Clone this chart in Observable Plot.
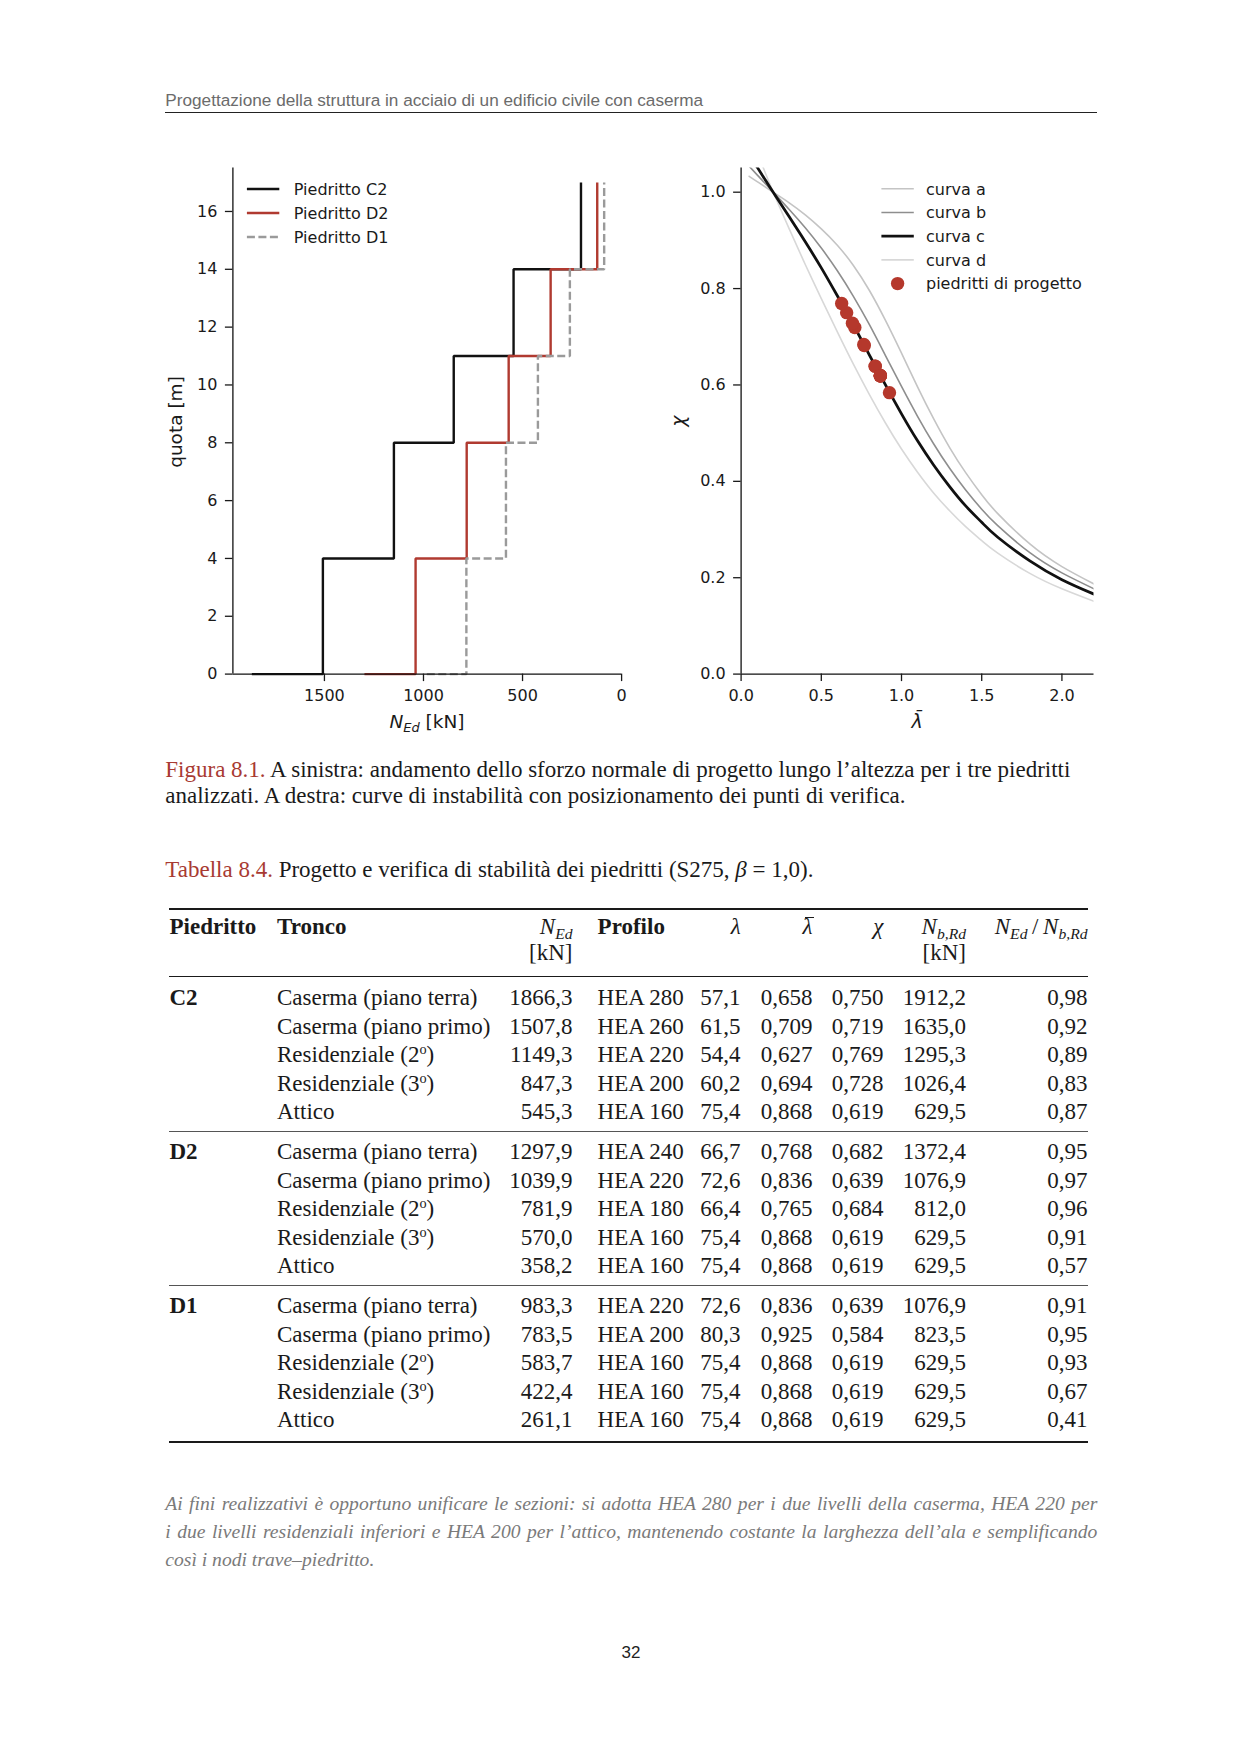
<!DOCTYPE html>
<html>
<head>
<meta charset="utf-8">
<script src="https://cdn.jsdelivr.net/npm/d3@7"></script>
<script src="https://cdn.jsdelivr.net/npm/@observablehq/plot@0.6"></script>
<style>
  body { margin: 0; background: #fff; }
  #page { position: relative; width: 1240px; height: 1752px; background: #fff; overflow: hidden; }
  .abs { position: absolute; white-space: nowrap; }
  .serif { font-family: "Liberation Serif", "Times New Roman", serif; color: #1a1a1a; }
  .sans { font-family: "Liberation Sans", Arial, sans-serif; }
  .red { color: #a83a32; }
  .b { font-weight: bold; }
  sub { font-size: 0.68em; vertical-align: -0.3em; line-height: 0; }
  sup { font-size: 0.62em; vertical-align: 0.55em; line-height: 0; }
  .lbar { position: relative; display: inline-block; }
  .lbar::after { content: ""; position: absolute; left: 2.5px; width: 9px; top: 4.5px; height: 1.2px; background: #1a1a1a; }
  .rule { position: absolute; background: #1a1a1a; }
  .chart { position: absolute; }
  .para { position: absolute; left: 165.3px; width: 932px; font-family: "Liberation Serif", serif; font-style: italic; color: #7a7a7a; font-size: 19.6px; line-height: 28px; }
</style>
</head>
<body>
<div id="page"></div>
<script>
// ---------------- DATA ----------------
const piedritti = ["C2", "D2", "D1"];
const tronchi = ["Caserma (piano terra)", "Caserma (piano primo)", "Residenziale (2º)", "Residenziale (3º)", "Attico"];
const nEd = [1866.3, 1507.8, 1149.3, 847.3, 545.3, 1297.9, 1039.9, 781.9, 570.0, 358.2, 983.3, 783.5, 583.7, 422.4, 261.1];
const profili = ["HEA 280", "HEA 260", "HEA 220", "HEA 200", "HEA 160", "HEA 240", "HEA 220", "HEA 180", "HEA 160", "HEA 160", "HEA 220", "HEA 200", "HEA 160", "HEA 160", "HEA 160"];
const snellezza = [57.1, 61.5, 54.4, 60.2, 75.4, 66.7, 72.6, 66.4, 75.4, 75.4, 72.6, 80.3, 75.4, 75.4, 75.4];
const lambdaBar = [0.658, 0.709, 0.627, 0.694, 0.868, 0.768, 0.836, 0.765, 0.868, 0.868, 0.836, 0.925, 0.868, 0.868, 0.868];
const chi = [0.750, 0.719, 0.769, 0.728, 0.619, 0.682, 0.639, 0.684, 0.619, 0.619, 0.639, 0.584, 0.619, 0.619, 0.619];
const nbRd = [1912.2, 1635.0, 1295.3, 1026.4, 629.5, 1372.4, 1076.9, 812.0, 629.5, 629.5, 1076.9, 823.5, 629.5, 629.5, 629.5];
const ratio = [0.98, 0.92, 0.89, 0.83, 0.87, 0.95, 0.97, 0.96, 0.91, 0.57, 0.91, 0.95, 0.93, 0.67, 0.41];

// left chart: storey levels and top-of-column force
const zLevels = [0, 4, 8, 11, 14, 17];
const nTop = [205, 123, 88];
const seriesNames = ["Piedritto C2", "Piedritto D2", "Piedritto D1"];
const xTicksLeft = [1500, 1000, 500, 0];
const yTicksLeft = [0, 2, 4, 6, 8, 10, 12, 14, 16];

// right chart: buckling curves
const lambdaGrid = [0.05, 0.1, 0.15, 0.2, 0.3, 0.4, 0.5, 0.6, 0.7, 0.8, 0.9, 1.0, 1.1, 1.2, 1.3, 1.4, 1.5, 1.6, 1.8, 2.0, 2.2];
const chiA = [1.033, 1.022, 1.011, 1.000, 0.978, 0.953, 0.924, 0.890, 0.848, 0.796, 0.734, 0.666, 0.596, 0.530, 0.470, 0.418, 0.372, 0.333, 0.270, 0.223, 0.187];
const chiB = [1.054, 1.036, 1.018, 1.000, 0.964, 0.926, 0.884, 0.837, 0.784, 0.725, 0.661, 0.597, 0.535, 0.478, 0.427, 0.382, 0.342, 0.308, 0.252, 0.210, 0.177];
const chiC = [1.080, 1.052, 1.026, 1.000, 0.949, 0.897, 0.843, 0.785, 0.725, 0.662, 0.600, 0.540, 0.484, 0.434, 0.389, 0.349, 0.315, 0.284, 0.235, 0.196, 0.166];
const chiD = [1.129, 1.083, 1.041, 1.000, 0.924, 0.850, 0.779, 0.710, 0.643, 0.580, 0.521, 0.467, 0.419, 0.376, 0.339, 0.306, 0.277, 0.251, 0.209, 0.177, 0.151];
const curveNames = ["curva a", "curva b", "curva c", "curva d"];
const pointsName = "piedritti di progetto";
const xTicksRight = [0, 0.5, 1.0, 1.5, 2.0];
const yTicksRight = [0, 0.2, 0.4, 0.6, 0.8, 1.0];

// ---------------- HELPERS ----------------
const page = document.getElementById("page");
const comma = (v, d) => v.toFixed(d).replace(".", ",");
function put(html, x, y, opt = {}) {
  const { align = "left", size = 23, lh = 28, cls = "serif", color = null } = opt;
  const d = document.createElement("div");
  d.className = "abs " + cls;
  d.innerHTML = html;
  d.style.fontSize = size + "px";
  d.style.lineHeight = lh + "px";
  d.style.top = (y - lh / 2) + "px";
  if (align === "left") d.style.left = x + "px";
  else if (align === "right") d.style.right = (1240 - x) + "px";
  else { d.style.left = (x - 300) + "px"; d.style.width = "600px"; d.style.textAlign = "center"; }
  if (color) d.style.color = color;
  page.appendChild(d);
  return d;
}
function rule(x1, x2, y, h, color = "#1a1a1a") {
  const r = document.createElement("div");
  r.className = "rule";
  r.style.left = x1 + "px"; r.style.width = (x2 - x1) + "px";
  r.style.top = (y - h / 2) + "px"; r.style.height = h + "px";
  r.style.background = color;
  page.appendChild(r);
}

// ---------------- HEADER ----------------
put("Progettazione della struttura in acciaio di un edificio civile con caserma", 165.3, 99.5, { cls: "sans", size: 17.2, lh: 20, color: "#6b6b6b" });
rule(165.3, 1097, 112.8, 1.2, "#222");

// ---------------- LEFT CHART ----------------
const chartStyle = { fontFamily: "'DejaVu Sans', sans-serif", fontSize: "16px", color: "#1a1a1a", background: "transparent", overflow: "visible" };
const stepSeries = piedritti.map((p, s) => zLevels.map((z, i) => ({ z, n: i < 5 ? nEd[s * 5 + i] : nTop[s] })));
const stepStyles = [
  { stroke: "#111111", strokeWidth: 2.4 },
  { stroke: "#b03a30", strokeWidth: 2.4 },
  { stroke: "#9a9a9a", strokeWidth: 2.4, strokeDasharray: "8,3.5" }
];
const leftPlot = Plot.plot({
  width: 505, height: 600,
  marginLeft: 110.4, marginRight: 5.9, marginTop: 17.6, marginBottom: 76.4,
  x: { domain: [1962, 0] },
  y: { domain: [0, 17.5] },
  style: chartStyle,
  marks: [
    ...stepSeries.map((data, s) => Plot.line(data, { x: "n", y: "z", curve: "step-after", strokeLinejoin: "miter", strokeLinecap: "butt", ...stepStyles[s] })),
    Plot.ruleX([1962], { stroke: "#111", strokeWidth: 1.3 }),
    Plot.ruleY([0], { stroke: "#111", strokeWidth: 1.3 }),
    Plot.axisX(xTicksLeft, { tickSize: 7.5, tickPadding: 8, tickFormat: d3.format("d"), label: null, fontSize: 16, strokeWidth: 1.3 }),
    Plot.axisY(yTicksLeft, { tickSize: 7.5, tickPadding: 8, tickFormat: d3.format("d"), label: null, fontSize: 16, strokeWidth: 1.3 })
  ]
});
const leftWrap = document.createElement("div");
leftWrap.className = "chart"; leftWrap.style.left = "122px"; leftWrap.style.top = "150px";
leftWrap.appendChild(leftPlot);
page.appendChild(leftWrap);
{
  const svg = d3.select(leftPlot);
  const g = svg.append("g").attr("font-family", "DejaVu Sans").attr("font-size", 16).attr("fill", "#1a1a1a").attr("text-anchor", "start");
  seriesNames.forEach((name, i) => {
    const y = 39 + 24 * i;
    g.append("line").attr("x1", 124.9).attr("x2", 157.3).attr("y1", y).attr("y2", y)
      .attr("stroke", stepStyles[i].stroke).attr("stroke-width", stepStyles[i].strokeWidth)
      .attr("stroke-dasharray", stepStyles[i].strokeDasharray || null);
    g.append("text").attr("x", 171.8).attr("y", y + 5.7).attr("text-anchor", "start").text(name);
  });
  const xl = g.append("text").attr("x", 305).attr("y", 578).attr("text-anchor", "middle").attr("font-size", 18.5);
  xl.append("tspan").attr("font-style", "italic").text("N");
  xl.append("tspan").attr("font-style", "italic").attr("font-size", 13).attr("dy", 4).text("Ed");
  xl.append("tspan").attr("dy", -4).text(" [kN]");
  g.append("text").attr("transform", "translate(60,272) rotate(-90)").attr("text-anchor", "middle").attr("font-size", 18.5).text("quota [m]");
}

// ---------------- RIGHT CHART ----------------
const curveData = [chiA, chiB, chiC, chiD].map(arr => lambdaGrid.map((l, i) => ({ l, c: arr[i] })));
const curveStyles = [
  { stroke: "#c4c4c4", strokeWidth: 1.6 },
  { stroke: "#8e8e8e", strokeWidth: 1.6 },
  { stroke: "#111111", strokeWidth: 2.8 },
  { stroke: "#d8d8d8", strokeWidth: 1.6 }
];
const pts = lambdaBar.map((l, i) => ({ l, c: chi[i] }));
const dotColor = "#b5382c";
const rightPlot = Plot.plot({
  width: 445, height: 600,
  marginLeft: 80.6, marginRight: 11.5, marginTop: 17.6, marginBottom: 76.4,
  x: { domain: [0, 2.2] },
  y: { domain: [0, 1.05] },
  style: chartStyle,
  marks: [
    ...[0, 1, 3, 2].map(k => Plot.line(curveData[k], { x: "l", y: "c", curve: "natural", clip: true, ...curveStyles[k] })),
    Plot.dot(pts, { x: "l", y: "c", r: 6.7, fill: dotColor, stroke: "none" }),
    Plot.ruleX([0], { stroke: "#111", strokeWidth: 1.3 }),
    Plot.ruleY([0], { stroke: "#111", strokeWidth: 1.3 }),
    Plot.axisX(xTicksRight, { tickSize: 7.5, tickPadding: 8, tickFormat: d3.format(".1f"), label: null, fontSize: 16, strokeWidth: 1.3 }),
    Plot.axisY(yTicksRight, { tickSize: 7.5, tickPadding: 8, tickFormat: d3.format(".1f"), label: null, fontSize: 16, strokeWidth: 1.3 })
  ]
});
const rightWrap = document.createElement("div");
rightWrap.className = "chart"; rightWrap.style.left = "660px"; rightWrap.style.top = "150px";
rightWrap.appendChild(rightPlot);
page.appendChild(rightWrap);
{
  const svg = d3.select(rightPlot);
  const g = svg.append("g").attr("font-family", "DejaVu Sans").attr("font-size", 16).attr("fill", "#1a1a1a").attr("text-anchor", "start");
  curveNames.forEach((name, i) => {
    const y = 38.8 + 23.7 * i;
    g.append("line").attr("x1", 221.4).attr("x2", 253.8).attr("y1", y).attr("y2", y)
      .attr("stroke", curveStyles[i].stroke).attr("stroke-width", curveStyles[i].strokeWidth);
    g.append("text").attr("x", 266).attr("y", y + 5.7).attr("text-anchor", "start").text(name);
  });
  const yP = 38.8 + 23.7 * 4;
  g.append("circle").attr("cx", 237.6).attr("cy", yP).attr("r", 6.7).attr("fill", dotColor);
  g.append("text").attr("x", 266).attr("y", yP + 5.7).attr("text-anchor", "start").text(pointsName);
  g.append("text").attr("x", 257).attr("y", 578).attr("text-anchor", "middle").attr("font-style", "italic").attr("font-size", 19).text("λ\u0304");
  g.append("text").attr("transform", "translate(25,271) rotate(-90)").attr("text-anchor", "middle").attr("font-style", "italic").attr("font-size", 19).text("χ");
}

// ---------------- CAPTIONS ----------------
put('<span class="red">Figura 8.1.</span> A sinistra: andamento dello sforzo normale di progetto lungo l’altezza per i tre piedritti', 165.3, 770, { size: 23, lh: 26 });
put('analizzati. A destra: curve di instabilità con posizionamento dei punti di verifica.', 165.3, 795.6, { size: 23, lh: 26 });
put('<span class="red">Tabella 8.4.</span> Progetto e verifica di stabilità dei piedritti (S275, <i>β</i> = 1,0).', 165.3, 870.2, { size: 23, lh: 26 });

// ---------------- TABLE ----------------
const tL = 168.7, tR = 1088;
rule(tL, tR, 908.5, 2);
rule(tL, tR, 976.5, 1.3);
rule(tL, tR, 1131.8, 1.3, "#555");
rule(tL, tR, 1285.7, 1.3, "#555");
rule(tL, tR, 1441.5, 2);

const colX = { pied: 169.5, tronco: 277, ned: 572.5, prof: 597.6, lam: 740.6, lbar: 812.5, chi: 883.4, nb: 966, ratio: 1087.5 };
const hY1 = 926.5, hY2 = 953;
put("Piedritto", colX.pied, hY1, { cls: "serif b" });
put("Tronco", colX.tronco, hY1, { cls: "serif b" });
put("<i>N</i><sub><i>Ed</i></sub>", colX.ned, hY1, { align: "right" });
put("[kN]", colX.ned, hY2, { align: "right" });
put("Profilo", colX.prof, hY1, { cls: "serif b" });
put("<i>λ</i>", colX.lam, hY1, { align: "right" });
put('<span class="lbar"><i>λ</i></span>', colX.lbar, hY1, { align: "right" });
put("<i>χ</i>", colX.chi, hY1, { align: "right" });
put("<i>N</i><sub><i>b,Rd</i></sub>", colX.nb, hY1, { align: "right" });
put("[kN]", colX.nb, hY2, { align: "right" });
put("<i>N</i><sub><i>Ed</i></sub>&#8201;/&#8201;<i>N</i><sub><i>b,Rd</i></sub>", colX.ratio, hY1, { align: "right" });

const groupStart = [998, 1152, 1306];
const rowStep = 28.6;
piedritti.forEach((p, g) => {
  put(p, colX.pied, groupStart[g], { cls: "serif b" });
  tronchi.forEach((t, r) => {
    const i = g * 5 + r;
    const y = groupStart[g] + r * rowStep;
    put(t.replace("º", "<sup>o</sup>"), colX.tronco, y);
    put(comma(nEd[i], 1), colX.ned, y, { align: "right" });
    put(profili[i], colX.prof, y);
    put(comma(snellezza[i], 1), colX.lam, y, { align: "right" });
    put(comma(lambdaBar[i], 3), colX.lbar, y, { align: "right" });
    put(comma(chi[i], 3), colX.chi, y, { align: "right" });
    put(comma(nbRd[i], 1), colX.nb, y, { align: "right" });
    put(comma(ratio[i], 2), colX.ratio, y, { align: "right" });
  });
});

// ---------------- PARAGRAPH ----------------
const paraLines = [
  "Ai fini realizzativi è opportuno unificare le sezioni: si adotta HEA 280 per i due livelli della caserma, HEA 220 per",
  "i due livelli residenziali inferiori e HEA 200 per l’attico, mantenendo costante la larghezza dell’ala e semplificando",
  "così i nodi trave–piedritto."
];
const paraY = [1503.6, 1531.6, 1559.5];
paraLines.forEach((line, i) => {
  const d = document.createElement("div");
  d.className = "para";
  d.textContent = line;
  d.style.top = (paraY[i] - 14) + "px";
  if (i < paraLines.length - 1) { d.style.textAlign = "justify"; d.style.textAlignLast = "justify"; }
  page.appendChild(d);
});

// ---------------- PAGE NUMBER ----------------
put("32", 631, 1653, { align: "center", cls: "sans", size: 17, lh: 20, color: "#222" });
</script>
</body>
</html>
